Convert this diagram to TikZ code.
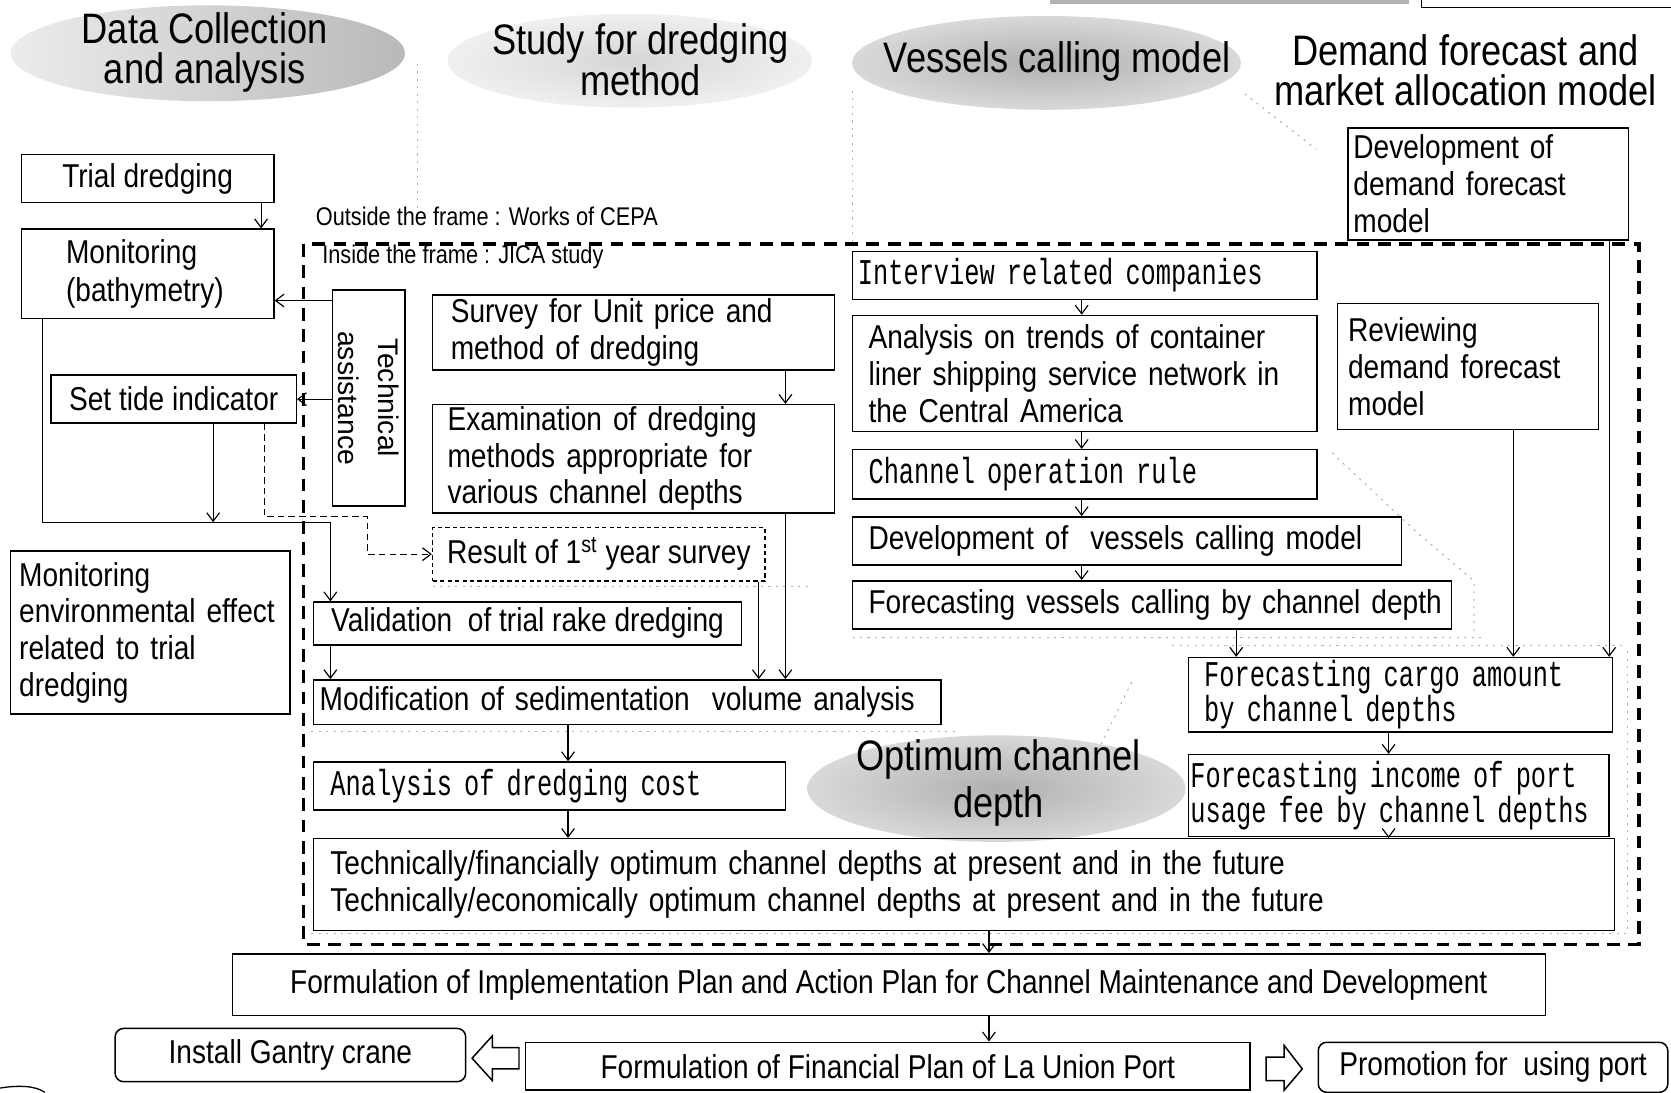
\documentclass[tikz,border=0pt]{standalone}
\usepackage{fontspec}
\setmainfont{Liberation Sans}[FakeStretch=0.85]
\newfontfamily\monof{Liberation Mono}[FakeStretch=0.7]
\newfontfamily\plainf{Liberation Sans}
\usetikzlibrary{arrows.meta,shapes.geometric}
\newcommand\bxf{\fontsize{15.5}{17.2}\selectfont}
\newcommand\mnf{\monof\fontsize{17}{16.5}\selectfont}
\newcommand\hdf{\fontsize{20}{19}\selectfont}
\newcommand\smf{\fontsize{12}{14}\selectfont}
\newcommand\taf{\plainf\fontsize{13.3}{18.5}\selectfont}
\newcommand\ml[1]{\mbox{#1}}
\tikzset{
  B/.style={draw, line width=0.7pt, inner ysep=1pt, inner xsep=4pt, font=\bxf},
  M/.style={B, font=\mnf},
  arr/.style={line width=0.55pt, -{Straight Barb[length=4pt,width=6pt]}},
  frm/.style={line width=1.6pt, dash pattern=on 6pt off 4pt},
  faint/.style={gray!60, line width=0.5pt, dash pattern=on 1pt off 2.5pt},
  hd/.style={font=\hdf, align=center, inner sep=0pt},
  el/.style={ellipse, inner sep=0pt},
}
\begin{document}
\begin{tikzpicture}[x=0.5pt,y=-0.5pt]
\useasboundingbox (0,0) rectangle (1568,1025);

% faint scan separators
\draw[faint] (392,60) -- (392,200);
\draw[faint] (800,85) -- (800,232);
\draw[faint] (1168,88) -- (1235,140);
\draw[faint] (1250,425) -- (1330,500) -- (1383,545) -- (1383,595);
\draw[faint] (1062,640) -- (1030,705);
\draw[faint] (406,550) -- (760,550);
\draw[faint] (292,686) -- (900,686);
\draw[faint] (800,598) -- (1390,598);
\draw[faint] (1100,606) -- (1522,606);
\draw[faint] (292,876) -- (1527,876) -- (1527,610);

% top edge fragments
\fill[gray!60] (985,0) rectangle (1322,4);
\draw[line width=0.7pt] (1334,0) -- (1334,7) -- (1568,7);
\draw[line width=0.6pt] (0,1021) .. controls (18,1018) and (34,1019) .. (42,1025);

% header ellipses and titles
\node[el, minimum width=185pt, minimum height=45pt, left color=gray!15, right color=gray!55] (e1) at (195,50) {};
\node[hd] (h1) at (192,49) {Data Collection\\and analysis};
\node[el, minimum width=171pt, minimum height=44pt, inner color=gray!32, outer color=gray!12] (e2) at (591,57) {};
\node[hd] (h2) at (601,56) {Study for dredging\\method};
\node[el, minimum width=182.5pt, minimum height=44pt, inner color=gray!62, outer color=gray!30] (e3) at (982,59) {};
\node[hd] (h3) at (992,58) {Vessels calling model};
\node[hd] (h4) at (1375,66) {Demand forecast and\\market allocation model};
\node[el, minimum width=177.5pt, minimum height=50pt, inner color=gray!62, outer color=gray!30] (e4) at (935,740) {};
\node[hd, font={\fontsize{20}{22}\selectfont}] (h5) at (937,735) {Optimum channel\\depth};

% frame
\draw[frm] (285,229) rectangle (1538,886);
\node[font=\smf, anchor=west, inner sep=0pt] (outs) at (296,203) {Outside the frame : Works of CEPA};
\node[font=\smf, anchor=west, inner sep=0pt] (ins) at (302,241) {Inside the frame : JICA study};

% left column
\node[B, minimum width=118.5pt, minimum height=22.5pt] (trial) at (138.5,167.5) {Trial dredging};
\node[B, minimum width=118.5pt, minimum height=42pt, inner xsep=21pt, text width=76.5pt, align=left, font={\fontsize{15.5}{18}\selectfont}] (mon) at (138.5,257) {\ml{Monitoring}\\\ml{(bathymetry)}};
\node[B, minimum width=115pt, minimum height=22.5pt] (tide) at (163,374.5) {Set tide indicator};
\node[B, minimum width=34pt, minimum height=101.5pt] (tech) at (346,373.5) {};
\node[rotate=-90, font=\taf, align=center, inner sep=0pt] (techt) at (tech.center) {Technical\\assistance};
\node[B, minimum width=131pt, minimum height=76.5pt, inner xsep=4pt, text width=123pt, align=left] (envm) at (141,593.5) {\ml{Monitoring}\\\ml{environmental effect}\\\ml{related to trial}\\\ml{dredging}};

% dredging column
\node[B, minimum width=188.5pt, minimum height=35pt, inner xsep=8.5pt, text width=171.5pt, align=left] (survey) at (594.5,312) {\ml{Survey for Unit price and}\\\ml{method of dredging}};
\node[B, minimum width=188.5pt, minimum height=50.5pt, inner xsep=7pt, text width=174.5pt, align=left] (exam) at (594.5,430.5) {\ml{Examination of dredging}\\\ml{methods appropriate for}\\\ml{various channel depths}};
\node[B, dash pattern=on 2pt off 1.5pt, minimum width=156pt, minimum height=25pt] (result) at (562,520) {Result of 1\textsuperscript{st} year survey};
\node[B, minimum width=201pt, minimum height=20pt] (valid) at (495,585) {Validation~ of trial rake dredging};
\node[B, minimum width=294.5pt, minimum height=21pt, inner xsep=3pt, text width=288.5pt, align=left] (modif) at (588.5,659) {\ml{Modification of sedimentation~ volume analysis}};
\node[M, minimum width=221.5pt, minimum height=22.5pt, inner xsep=8pt, text width=205.5pt, align=left] (cost) at (515.5,737.5) {\ml{Analysis of dredging cost}};
\node[B, minimum width=610.5pt, minimum height=43pt, inner xsep=8pt, text width=594.5pt, align=left] (optd) at (904.5,830) {\ml{Technically/financially optimum channel depths at present and in the future}\\\ml{Technically/economically optimum channel depths at present and in the future}};

% vessels column
\node[M, minimum width=218pt, minimum height=22.5pt, inner xsep=2.5pt, text width=213pt, align=left] (intv) at (1018,258.5) {\ml{Interview related companies}};
\node[B, minimum width=218pt, minimum height=54.5pt, inner xsep=7.5pt, text width=203pt, align=left] (trends) at (1018,350.5) {\ml{Analysis on trends of container}\\\ml{liner shipping service network in}\\\ml{the Central America}};
\node[M, minimum width=218pt, minimum height=23pt, inner xsep=7.5pt, text width=203pt, align=left] (rule) at (1018,445) {\ml{Channel operation rule}};
\node[B, minimum width=257.5pt, minimum height=22.5pt, inner xsep=7.5pt, text width=242.5pt, align=left] (devv) at (1057.5,507.5) {\ml{Development of~ vessels calling model}};
\node[B, minimum width=281pt, minimum height=22.5pt, inner xsep=7.5pt, text width=266pt, align=left] (fvc) at (1081,567.5) {\ml{Forecasting vessels calling by channel depth}};
\node[M, minimum width=199pt, minimum height=35pt, inner xsep=7.5pt, text width=184pt, align=left] (cargo) at (1314,652) {\ml{Forecasting cargo amount}\\\ml{by channel depths}};
\node[M, minimum width=197.5pt, minimum height=38.5pt, inner xsep=1pt, text width=195.5pt, align=left] (income) at (1312.5,746.5) {\ml{Forecasting income of port}\\\ml{usage fee by channel depths}};

% demand column
\node[B, minimum width=131.5pt, minimum height=52.5pt, inner xsep=2.5pt, text width=126.5pt, align=left] (devd) at (1396.5,172.5) {\ml{Development of}\\\ml{demand forecast}\\\ml{model}};
\node[B, minimum width=122.5pt, minimum height=59pt, inner xsep=5pt, text width=112.5pt, align=left] (review) at (1377.5,344) {\ml{Reviewing}\\\ml{demand forecast}\\\ml{model}};

% bottom
\node[B, minimum width=616pt, minimum height=29pt] (impl) at (834,924) {Formulation of Implementation Plan and Action Plan for Channel Maintenance and Development};
\node[B, minimum width=340pt, minimum height=22.5pt] (fin) at (833,1000.5) {Formulation of Financial Plan of La Union Port};
\node[B, rounded corners=4pt, minimum width=164.5pt, minimum height=25pt] (gantry) at (272.5,990) {Install Gantry crane};
\node[B, rounded corners=4pt, minimum width=164pt, minimum height=23.5pt] (promo) at (1401,1001.5) {Promotion for~ using port};

% hollow block arrows
\draw[line width=0.7pt] (443,993) -- (462,972) -- (462,983) -- (487,983) -- (487,1003) -- (462,1003) -- (462,1014) -- cycle;
\draw[line width=0.7pt] (1188,992) -- (1205,992) -- (1205,981) -- (1222,1003) -- (1205,1023) -- (1205,1014) -- (1188,1014) -- cycle;

% connectors
\coordinate (jn) at (200,490);
\draw[arr] (trial.south -| 245,0) -- (mon.north -| 245,0);
\draw[arr] (tech.west |- 0,282) -- (mon.east |- 0,282);
\draw[arr] (tech.west |- tide.east) -- (tide.east);
\draw[line width=0.55pt] (mon.south -| 40,0) |- (jn);
\draw[arr] (jn) -| (valid.north -| 310,0);
\draw[arr] (tide.south -| jn) -- (jn);
\draw[arr, dash pattern=on 3pt off 2pt] (tide.south -| 248,0) |- (345,485) |- (result.west);
\draw[arr] (survey.south -| 737,0) -- (exam.north -| 737,0);
\draw[arr] (exam.south -| 737,0) -- (modif.north -| 737,0);
\draw[arr] (result.south -| 712,0) -- (modif.north -| 712,0);
\draw[arr] (valid.south -| 310,0) -- (modif.north -| 310,0);
\draw[arr] (modif.south -| 533,0) -- (cost.north -| 533,0);
\draw[arr] (cost.south -| 533,0) -- (optd.north -| 533,0);
\draw[arr] (intv.south -| 1015,0) -- (trends.north -| 1015,0);
\draw[arr] (trends.south -| 1015,0) -- (rule.north -| 1015,0);
\draw[arr] (rule.south -| 1015,0) -- (devv.north -| 1015,0);
\draw[arr] (devv.south -| 1015,0) -- (fvc.north -| 1015,0);
\draw[arr] (fvc.south -| 1160,0) -- (cargo.north -| 1160,0);
\draw[arr] (devd.south -| 1510,0) -- (cargo.north -| 1510,0);
\draw[arr] (review.south -| 1420,0) -- (cargo.north -| 1420,0);
\draw[arr] (cargo.south -| 1303,0) -- (income.north -| 1303,0);
\draw[arr] (income.south -| 1303,0) -- (optd.north -| 1303,0);
\draw[arr] (optd.south -| 928,0) -- (impl.north -| 928,0);
\draw[arr] (impl.south -| 928,0) -- (fin.north -| 928,0);
\end{tikzpicture}
\end{document}
